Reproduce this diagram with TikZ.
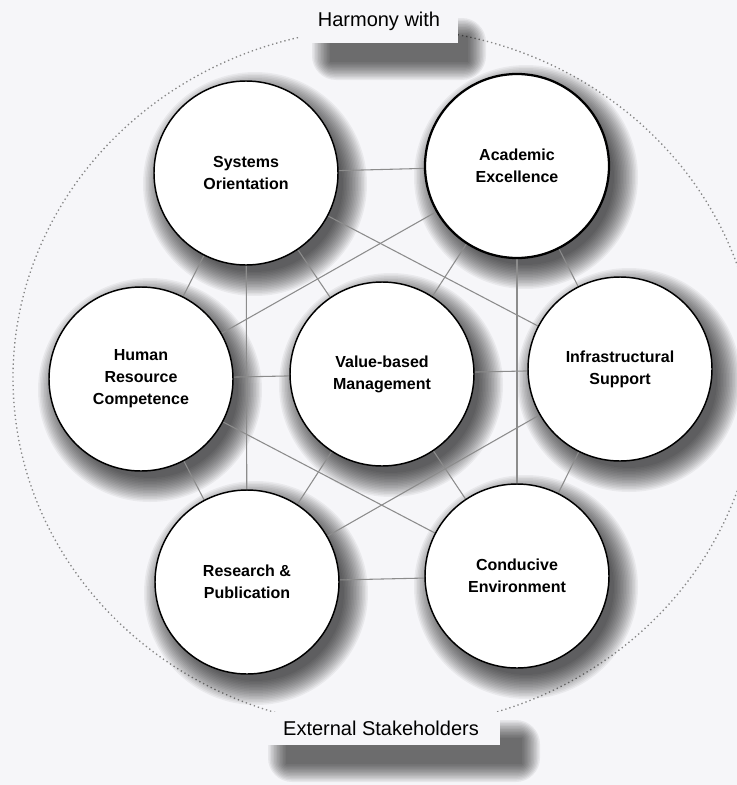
\documentclass[tikz,border=0pt]{standalone}
\usepackage{fontspec}
\setmainfont{Liberation Sans}
\pgfdeclarelayer{shadowlayer}
\pgfdeclarelayer{linelayer}
\pgfsetlayers{shadowlayer,linelayer,main}
\definecolor{paper}{HTML}{F6F6F9}
\definecolor{linkgray}{HTML}{8C8C8C}
\begin{document}
\begin{tikzpicture}[x=0.75pt,y=-0.75pt,
  topic/.style={circle,draw=black,line width=1.1pt,fill=white,minimum size=138pt,inner sep=0pt,align=center,
    font=\bfseries\fontsize{12}{16.5}\selectfont},
  link/.style={draw=linkgray,line width=0.8pt},
  outer/.style={draw=gray!95,line width=1pt,dash pattern=on 1pt off 2.2pt},
  labelbox/.style={fill=paper,inner sep=0pt,font=\fontsize{15}{18}\selectfont},
  shadowfill/.style={fill=black,opacity=0.05}]
\useasboundingbox (0,0) rectangle (737,785);

% nodes
\node[topic] (sys) at (246,173) {Systems\\Orientation};
\node[topic,line width=1.7pt] (acad) at (517,166) {Academic\\Excellence};
\node[topic] (hum) at (141,379) {Human\\Resource\\Competence};
\node[topic] (val) at (382,374) {Value-based\\Management};
\node[topic] (inf) at (620,369) {Infrastructural\\Support};
\node[topic] (res) at (247,582) {Research \&\\Publication};
\node[topic] (cond) at (517,576) {Conducive\\Environment};

\node[labelbox,minimum width=118.5pt,minimum height=32.25pt] (harm) at (379,21.5) {Harmony with};
\node[labelbox,minimum width=178.5pt,minimum height=24.75pt] (ext) at (381,728.5) {External Stakeholders};

% background, dotted frame and shadows
\begin{pgfonlayer}{shadowlayer}
  \fill[paper] (0,0) rectangle (737,785);
  \draw[outer] (385,378) ellipse [x radius=372, y radius=350];
  \foreach \n in {sys,acad,hum,val,inf,res,cond}{
    \foreach \k in {0,...,16}{
      \fill[shadowfill] ([shift={(9,11)}]\n.center) circle [radius=88+1.5*\k];
    }
  }
  \foreach \k in {0,...,12}{
    \fill[shadowfill,opacity=0.06,rounded corners=1.5*\k] (330-1.5*\k,36-1.5*\k) rectangle (468+1.5*\k,62+1.5*\k);
    \fill[shadowfill,opacity=0.06,rounded corners=1.5*\k] (286-1.5*\k,738-1.5*\k) rectangle (522+1.5*\k,764+1.5*\k);
  }
\end{pgfonlayer}

% connectors
\begin{pgfonlayer}{linelayer}
  % ring
  \draw[link] (sys) -- (acad);
  \draw[link] (acad) -- (inf);
  \draw[link] (inf) -- (cond);
  \draw[link] (cond) -- (res);
  \draw[link] (res) -- (hum);
  \draw[link] (hum) -- (sys);
  % spokes
  \foreach \n in {sys,acad,hum,inf,res,cond}{\draw[link] (val) -- (\n);}
  % second neighbours
  \draw[link] (sys) -- (inf);
  \draw[link] (acad) -- (hum);
  \draw[link] (hum) -- (cond);
  \draw[link] (res) -- (inf);
  \draw[link] (sys) -- (res);
  \draw[link] (acad) -- (cond);
\end{pgfonlayer}
\end{tikzpicture}
\end{document}
